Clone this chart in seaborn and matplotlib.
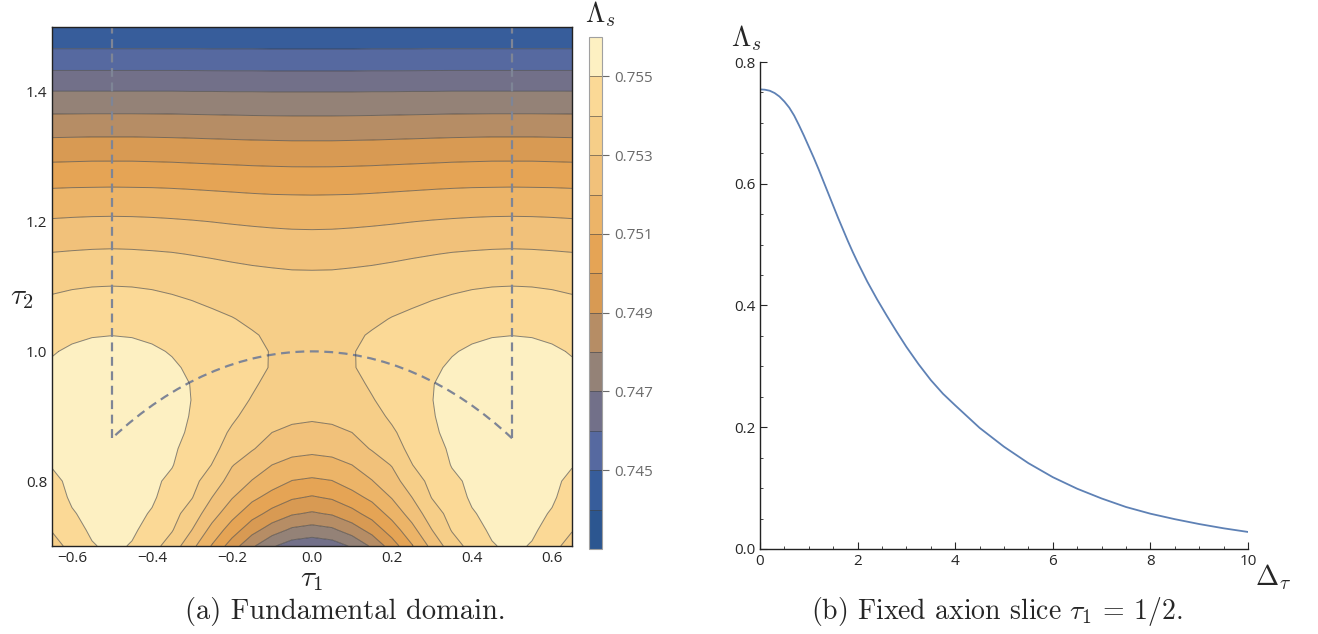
import numpy as np
import matplotlib
matplotlib.use("Agg")
import matplotlib.pyplot as plt
from matplotlib.patches import Arc
from matplotlib.ticker import MultipleLocator, FormatStrFormatter, FuncFormatter
import seaborn as sns

# ---- (a) Lambda_s over the fundamental domain ----
# values are even in tau1 and repeat with period 1, so one half-strip is enough
tau1_half = [0.00, 0.05, 0.10, 0.15, 0.20, 0.25, 0.30, 0.35, 0.40, 0.45, 0.50]
tau1 = [-0.65, -0.60, -0.55, -0.50, -0.45, -0.40, -0.35, -0.30, -0.25, -0.20, -0.15,
        -0.10, -0.05, 0.00, 0.05, 0.10, 0.15, 0.20, 0.25, 0.30, 0.35, 0.40, 0.45,
        0.50, 0.55, 0.60, 0.65]
tau2 = [0.70, 0.725, 0.75, 0.775, 0.80, 0.825, 0.85, 0.875, 0.90, 0.925, 0.95,
        0.975, 1.00, 1.025, 1.05, 1.075, 1.10, 1.125, 1.15, 1.20, 1.25, 1.30,
        1.35, 1.40, 1.45, 1.50]
lam_half = [
    [0.74630, 0.74650, 0.74712, 0.74817, 0.74950, 0.75092, 0.75228, 0.75355, 0.75435, 0.75493, 0.75520],
    [0.74761, 0.74783, 0.74850, 0.74938, 0.75051, 0.75169, 0.75300, 0.75407, 0.75465, 0.75515, 0.75535],
    [0.74888, 0.74911, 0.74968, 0.75040, 0.75135, 0.75242, 0.75354, 0.75434, 0.75493, 0.75524, 0.75545],
    [0.74991, 0.75013, 0.75064, 0.75124, 0.75206, 0.75300, 0.75404, 0.75460, 0.75512, 0.75538, 0.75553],
    [0.75084, 0.75097, 0.75145, 0.75196, 0.75264, 0.75350, 0.75429, 0.75484, 0.75515, 0.75542, 0.75558],
    [0.75159, 0.75170, 0.75200, 0.75252, 0.75305, 0.75398, 0.75453, 0.75504, 0.75530, 0.75550, 0.75560],
    [0.75223, 0.75232, 0.75260, 0.75307, 0.75366, 0.75421, 0.75472, 0.75512, 0.75535, 0.75550, 0.75560],
    [0.75275, 0.75281, 0.75300, 0.75344, 0.75388, 0.75438, 0.75490, 0.75517, 0.75535, 0.75549, 0.75558],
    [0.75312, 0.75319, 0.75338, 0.75371, 0.75414, 0.75455, 0.75496, 0.75520, 0.75535, 0.75548, 0.75555],
    [0.75332, 0.75339, 0.75360, 0.75395, 0.75429, 0.75464, 0.75499, 0.75518, 0.75533, 0.75544, 0.75550],
    [0.75347, 0.75355, 0.75378, 0.75411, 0.75440, 0.75469, 0.75498, 0.75515, 0.75530, 0.75540, 0.75545],
    [0.75356, 0.75364, 0.75396, 0.75416, 0.75440, 0.75464, 0.75488, 0.75510, 0.75522, 0.75532, 0.75538],
    [0.75360, 0.75370, 0.75396, 0.75418, 0.75437, 0.75456, 0.75476, 0.75495, 0.75510, 0.75522, 0.75530],
    [0.75358, 0.75364, 0.75385, 0.75408, 0.75428, 0.75446, 0.75462, 0.75476, 0.75488, 0.75496, 0.75499],
    [0.75352, 0.75355, 0.75366, 0.75383, 0.75404, 0.75420, 0.75436, 0.75450, 0.75459, 0.75464, 0.75466],
    [0.75339, 0.75341, 0.75348, 0.75359, 0.75373, 0.75389, 0.75404, 0.75416, 0.75425, 0.75431, 0.75433],
    [0.75323, 0.75325, 0.75330, 0.75339, 0.75350, 0.75362, 0.75374, 0.75385, 0.75394, 0.75399, 0.75401],
    [0.75300, 0.75301, 0.75306, 0.75312, 0.75320, 0.75329, 0.75338, 0.75346, 0.75352, 0.75357, 0.75358],
    [0.75261, 0.75262, 0.75266, 0.75272, 0.75280, 0.75289, 0.75297, 0.75305, 0.75310, 0.75314, 0.75316],
    [0.75180, 0.75181, 0.75184, 0.75188, 0.75193, 0.75199, 0.75205, 0.75210, 0.75214, 0.75217, 0.75218],
    [0.75082, 0.75083, 0.75084, 0.75087, 0.75091, 0.75095, 0.75099, 0.75103, 0.75106, 0.75107, 0.75108],
    [0.74963, 0.74963, 0.74965, 0.74967, 0.74970, 0.74973, 0.74976, 0.74979, 0.74981, 0.74983, 0.74983],
    [0.74835, 0.74835, 0.74836, 0.74837, 0.74839, 0.74841, 0.74843, 0.74845, 0.74846, 0.74847, 0.74847],
    [0.74700, 0.74700, 0.74700, 0.74701, 0.74701, 0.74702, 0.74702, 0.74703, 0.74703, 0.74703, 0.74703],
    [0.74545, 0.74545, 0.74545, 0.74546, 0.74546, 0.74546, 0.74547, 0.74547, 0.74547, 0.74547, 0.74547],
    [0.74405, 0.74405, 0.74405, 0.74405, 0.74405, 0.74405, 0.74405, 0.74405, 0.74405, 0.74405, 0.74405],
]
levels = [0.743, 0.744, 0.745, 0.746, 0.747, 0.748, 0.749, 0.750,
          0.751, 0.752, 0.753, 0.754, 0.755, 0.756]
band_colors = ["#2c5690", "#375d9b", "#5669a0", "#727089", "#948277", "#b68d65",
               "#d89a53", "#e5a455", "#ecb468", "#f1c17a", "#f6ce88", "#fbd996",
               "#fdf0c2"]
cbar_ticks = [0.745, 0.747, 0.749, 0.751, 0.753, 0.755]

# ---- (b) slice at tau1 = 1/2 ----
delta = [0.0, 0.1, 0.2, 0.3, 0.4, 0.5, 0.6, 0.7, 0.8, 0.9, 1.0, 1.1, 1.2, 1.3,
         1.4, 1.5, 1.6, 1.7, 1.8, 1.9, 2.0, 2.2, 2.4, 2.6, 2.8, 3.0, 3.25, 3.5,
         3.75, 4.0, 4.5, 5.0, 5.5, 6.0, 6.5, 7.0, 7.5, 8.0, 8.5, 9.0, 9.5, 10.0]
lam_slice = [0.7550, 0.7545, 0.7528, 0.7490, 0.7432, 0.7350, 0.7250, 0.7120,
             0.6960, 0.6790, 0.6610, 0.6430, 0.6240, 0.6040, 0.5840, 0.5640,
             0.5440, 0.5250, 0.5060, 0.4880, 0.4710, 0.4390, 0.4100, 0.3830,
             0.3570, 0.3320, 0.3035, 0.2775, 0.2550, 0.2360, 0.1990, 0.1680,
             0.1410, 0.1180, 0.0990, 0.0830, 0.0690, 0.0580, 0.0490, 0.0410,
             0.0340, 0.0280]

W, H = 1318, 634


def fx(px):
    return px / W


def fy(py):
    return 1 - py / H


sns.set_style("ticks")
plt.rcParams['font.family'] = ['Open Sans', 'DejaVu Sans']
plt.rcParams['mathtext.fontset'] = 'cm'

fig = plt.figure(figsize=(W / 100, H / 100), dpi=100)
ax1 = fig.add_axes([fx(52), fy(546), 520 / W, 519 / H])
cax = fig.add_axes([fx(589), fy(549), 13 / W, 512 / H])
ax2 = fig.add_axes([fx(760), fy(549), 488 / W, 487 / H])

# contour plot
half = np.array(lam_half)
cols = [tau1_half.index(round(min(abs(t), 1 - abs(t)), 2)) for t in tau1]
Z = half[:, cols]
cf = ax1.contourf(tau1, tau2, Z, levels=levels, colors=band_colors, antialiased=True)
ax1.contour(tau1, tau2, Z, levels=levels[1:-1], colors='#3a3a3a',
            linewidths=0.7, alpha=0.6)

# fundamental domain boundary
corner = np.sqrt(3) / 2
dash_col = '#7e8596'
ax1.vlines([-0.5, 0.5], corner, 1.5, colors=dash_col, linestyles=(0, (4, 2.5)), linewidth=1.6)
ax1.add_patch(Arc((0, 0), 2, 2, theta1=60, theta2=120, color=dash_col,
                  linestyle=(0, (4, 2.5)), linewidth=1.6))

minus_fmt = FuncFormatter(lambda v, p: f"{v:.1f}".replace('-', '\u2212'))
ax1.set_xlim(-0.65, 0.65)
ax1.set_ylim(0.7, 1.5)
ax1.xaxis.set_major_locator(MultipleLocator(0.2))
ax1.xaxis.set_minor_locator(MultipleLocator(0.05))
ax1.yaxis.set_major_locator(MultipleLocator(0.2))
ax1.yaxis.set_minor_locator(MultipleLocator(0.05))
ax1.xaxis.set_major_formatter(minus_fmt)
ax1.yaxis.set_major_formatter(minus_fmt)
ax1.tick_params(which='both', direction='in', top=True, right=True, labelsize=11)
ax1.tick_params(which='major', length=5, width=0.8)
ax1.tick_params(which='minor', length=2.5, width=0.6)
for s in ax1.spines.values():
    s.set_color('#222222')
    s.set_linewidth(1.0)
ax1.set_yticks([0.8, 1.0, 1.2, 1.4])

# colour bar
cb = fig.colorbar(cf, cax=cax, ticks=cbar_ticks, drawedges=True)
cb.outline.set_edgecolor('#a0a0a0')
cb.outline.set_linewidth(0.8)
cb.dividers.set_color('#444444')
cb.dividers.set_alpha(0.6)
cb.dividers.set_linewidth(0.7)
cax.yaxis.set_major_formatter(FormatStrFormatter('%.3f'))
cax.tick_params(labelsize=11, colors='#6a6a6a', length=5, width=0.8, direction='out')
cax.minorticks_off()

# slice plot
sns.lineplot(x=delta, y=lam_slice, ax=ax2, color='#5e81b5', linewidth=1.3)
ax2.set_xlim(0, 10)
ax2.set_ylim(0, 0.8)
sns.despine(ax=ax2)
ax2.xaxis.set_major_locator(MultipleLocator(2))
ax2.xaxis.set_minor_locator(MultipleLocator(0.5))
ax2.yaxis.set_major_locator(MultipleLocator(0.2))
ax2.yaxis.set_minor_locator(MultipleLocator(0.05))
ax2.xaxis.set_major_formatter(FormatStrFormatter('%d'))
ax2.yaxis.set_major_formatter(FormatStrFormatter('%.1f'))
ax2.tick_params(which='both', direction='in', labelsize=11)
ax2.tick_params(which='major', length=5, width=0.8)
ax2.tick_params(which='minor', length=2.5, width=0.6)
for s in ['left', 'bottom']:
    ax2.spines[s].set_color('#222222')
    ax2.spines[s].set_linewidth(1.0)

# axis labels (Mathematica style, placed freely)
fig.text(fx(312), fy(586), r'$\tau_1$', fontsize=21, ha='center', va='baseline')
fig.text(fx(22), fy(297), r'$\tau_2$', fontsize=21, ha='center', va='center')
fig.text(fx(600), fy(14), r'$\Lambda_s$', fontsize=20, ha='center', va='center')
fig.text(fx(746), fy(38), r'$\Lambda_s$', fontsize=20, ha='center', va='center')
fig.text(fx(1273), fy(577), r'$\Delta_\tau$', fontsize=20, ha='center', va='center')

# captions
fig.text(fx(345), fy(612), '(a) Fundamental domain.', family='cmr10', fontsize=20.5,
         ha='center', va='center')
fig.text(fx(997), fy(612), r'(b) Fixed axion slice $\tau_1$ = 1/2.', family='cmr10',
         fontsize=20, ha='center', va='center')

fig.savefig('out.png', dpi=100)
